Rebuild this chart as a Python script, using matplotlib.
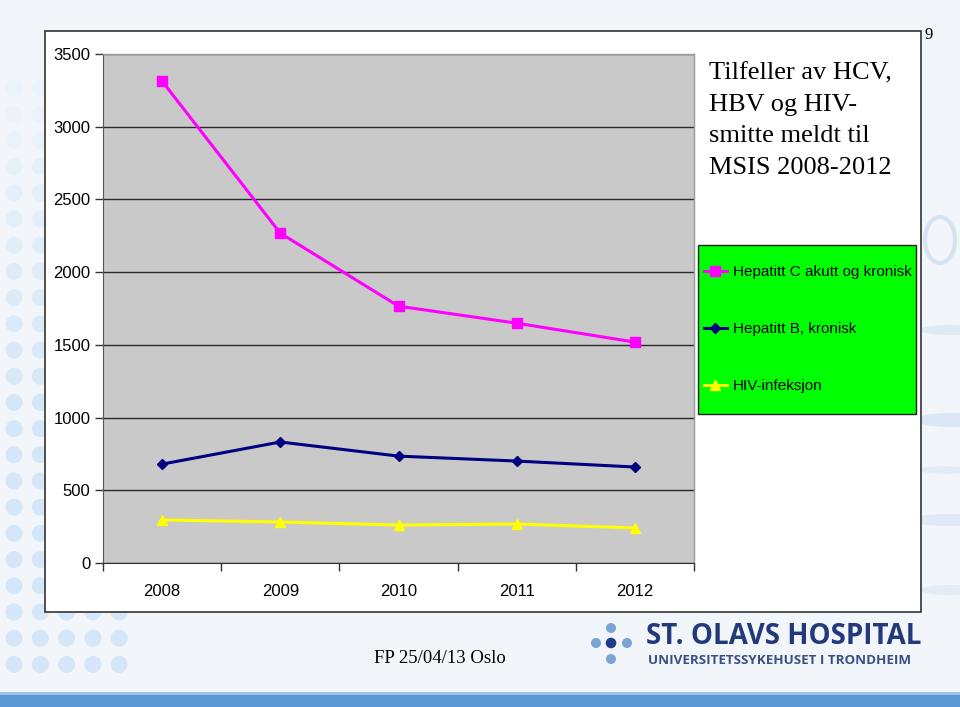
import matplotlib
matplotlib.use("Agg")
import matplotlib.pyplot as plt
from matplotlib.patches import Rectangle, Circle, Ellipse

years = ["2008", "2009", "2010", "2011", "2012"]
hcv = [3313, 2268, 1766, 1649, 1519]
hbv = [680, 832, 735, 701, 660]
hiv = [296, 282, 261, 268, 241]
series_labels = ["Hepatitt C akutt og kronisk", "Hepatitt B, kronisk", "HIV-infeksjon"]
yticks = [0, 500, 1000, 1500, 2000, 2500, 3000, 3500]
title = "Tilfeller av HCV,\nHBV og HIV-\nsmitte meldt til\nMSIS 2008-2012"

W, H = 960, 707
fig = plt.figure(figsize=(W / 100, H / 100), dpi=100)
fig.patch.set_facecolor("#f2f6fb")

# background layer in pixel coordinates
bg = fig.add_axes([0, 0, 1, 1], zorder=-5)
bg.set_xlim(0, W)
bg.set_ylim(H, 0)
bg.axis("off")

# decorative dots on the left
for r in range(24):
    yy = 88 + 26.2 * r
    if yy > 680:
        break
    a = min(1.0, 0.15 + (yy - 88) / 400)
    for c in range(5):
        xx = 14 + 26.3 * c
        bg.add_patch(Circle((xx, yy), 8.5, facecolor="#d4e6f7", edgecolor="none", alpha=a, zorder=0))
# faint water ripple hints on the right
bg.add_patch(Ellipse((940, 240), 30, 46, facecolor="none", edgecolor="#a9c6e6", lw=3, alpha=0.4, zorder=0))
for (cx, cy, w, h, al) in [(950, 330, 60, 10, 0.25), (950, 420, 70, 14, 0.3),
                           (950, 520, 80, 12, 0.25), (950, 590, 60, 10, 0.2), (945, 470, 50, 8, 0.2)]:
    bg.add_patch(Ellipse((cx, cy), w, h, facecolor="#a9c6e6", edgecolor="none", alpha=al, zorder=0))

# bottom strip
bg.add_patch(Rectangle((0, 694), W, 13, facecolor="#5b9bd5", edgecolor="none", zorder=1))
bg.add_patch(Rectangle((0, 692), W, 2.5, facecolor="#9cc3e8", edgecolor="none", zorder=1))

# chart frame
bg.add_patch(Rectangle((45, 31), 876, 581, facecolor="white", edgecolor="#333333", lw=1.2, zorder=2))

# legend box (green)
bg.add_patch(Rectangle((698, 245), 218, 169, facecolor="#00ff00", edgecolor="#222222", lw=1.0, zorder=3))

# logo
bg.add_patch(Circle((611, 628), 5, facecolor="#7aa5d3", edgecolor="none", zorder=3))
bg.add_patch(Circle((596, 643), 5, facecolor="#7aa5d3", edgecolor="none", zorder=3))
bg.add_patch(Circle((611, 643), 5.3, facecolor="#1f3d8a", edgecolor="none", zorder=3))
bg.add_patch(Circle((627, 643), 5, facecolor="#7aa5d3", edgecolor="none", zorder=3))
bg.add_patch(Circle((611, 659), 5, facecolor="#7aa5d3", edgecolor="none", zorder=3))
bg.text(646, 644, "ST. OLAVS HOSPITAL", fontsize=20, fontweight="bold", color="#233a7a",
        family="Open Sans", ha="left", va="baseline", zorder=3)
bg.text(648, 664, "UNIVERSITETSSYKEHUSET I TRONDHEIM", fontsize=9.6, fontweight="bold", color="#3a4f85",
        family="Open Sans", ha="left", va="baseline", zorder=3)

# footer and page number
bg.text(440, 663, "FP 25/04/13 Oslo", fontsize=13.5, family="Liberation Serif", ha="center",
        va="baseline", color="black", zorder=3)
bg.text(929, 39, "9", fontsize=12, family="Liberation Serif", ha="center", va="baseline",
        color="black", zorder=3)

# title
bg.text(709, 62, title, fontsize=19, family="Liberation Serif", ha="left", va="top",
        linespacing=1.56, color="black", zorder=3)

# main plot
ax = fig.add_axes([103 / W, (H - 563) / H, 591 / W, 509 / H], zorder=1)
ax.set_facecolor("#c9c9c9")
x = list(range(len(years)))
ax.plot(x, hcv, color="#ff00ff", lw=2.2, marker="s", ms=6.5, mfc="#ff00ff", mec="#ff00ff",
        label=series_labels[0], zorder=3)
ax.plot(x, hbv, color="#000080", lw=2.2, marker="D", ms=5.5, mfc="#000080", mec="#000080",
        label=series_labels[1], zorder=3)
ax.plot(x, hiv, color="#ffff00", lw=2.2, marker="^", ms=7, mfc="#ffff00", mec="#ffff00",
        label=series_labels[2], zorder=3)

ax.set_xlim(-0.5, len(years) - 0.5)
ax.set_ylim(0, 3500)
ax.set_yticks(yticks)
ax.set_yticklabels([str(v) for v in yticks], fontsize=12, family="Liberation Sans")
ax.yaxis.grid(True, color="#2a2a2a", lw=1.0)
ax.set_axisbelow(True)
ax.set_xticks([i - 0.5 for i in range(len(years) + 1)])
ax.set_xticklabels([])
ax.set_xticks(x, minor=True)
ax.set_xticklabels(years, minor=True, fontsize=12, family="Liberation Sans")
ax.tick_params(axis="x", which="minor", length=0, pad=15)
ax.tick_params(axis="x", which="major", length=6, width=1, color="#333333", direction="out")
ax.tick_params(axis="y", length=6, width=1, color="#333333", direction="out", pad=3)
for s in ["top", "right"]:
    ax.spines[s].set_color("#9a9a9a")
    ax.spines[s].set_linewidth(1.0)
ax.spines["left"].set_color("#555555")
ax.spines["bottom"].set_color("#333333")

leg = ax.legend(loc="center left", bbox_to_anchor=(704 / W, (H - 329) / H),
                bbox_transform=fig.transFigure, frameon=False,
                prop={"family": "Liberation Sans", "size": 11}, handlelength=1.5,
                handletextpad=0.4, labelspacing=2.81, borderpad=0, borderaxespad=0)
leg.set_zorder(5)

fig.savefig("out.png", dpi=100, facecolor=fig.get_facecolor())
